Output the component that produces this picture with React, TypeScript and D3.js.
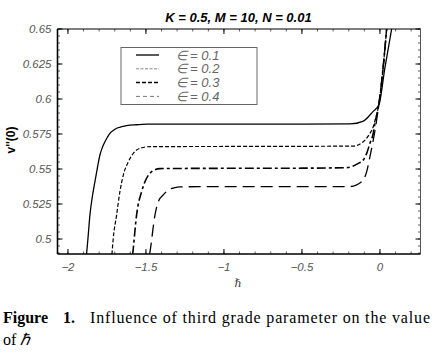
import React from "react";
import * as d3 from "d3";

type Pt = [number, number];

const seriesLabels = ["∈ = 0.1", "∈ = 0.2", "∈ = 0.3", "∈ = 0.4"];

const eps01: Pt[] = [
  [-1.881, 0.489], [-1.872, 0.5], [-1.859, 0.5172], [-1.844, 0.530], [-1.827, 0.541],
  [-1.811, 0.551], [-1.795, 0.560], [-1.779, 0.5655], [-1.763, 0.5695], [-1.747, 0.5727],
  [-1.731, 0.5755], [-1.71, 0.5775], [-1.688, 0.5791], [-1.656, 0.5802], [-1.624, 0.581],
  [-1.56, 0.5816], [-1.496, 0.582], [-1.0, 0.582], [-0.5, 0.582], [-0.19, 0.5822],
  [-0.11, 0.584], [-0.045, 0.591], [-0.006, 0.596], [0.03, 0.621], [0.075, 0.65],
];
const eps02: Pt[] = [
  [-1.718, 0.489], [-1.71, 0.5], [-1.688, 0.5172], [-1.667, 0.5338], [-1.645, 0.5457],
  [-1.613, 0.5552], [-1.581, 0.5612], [-1.538, 0.5648], [-1.474, 0.566], [-1.0, 0.5661],
  [-0.5, 0.5662], [-0.173, 0.5664], [-0.107, 0.5695], [-0.064, 0.5755], [-0.043, 0.5802],
  [-0.032, 0.5845], [-0.006, 0.597], [0.02, 0.622], [0.043, 0.65],
];
const eps03: Pt[] = [
  [-1.585, 0.489], [-1.581, 0.4934], [-1.56, 0.5172], [-1.528, 0.5338], [-1.496, 0.5434],
  [-1.463, 0.5481], [-1.41, 0.5503], [-1.0, 0.5505], [-0.5, 0.5506], [-0.213, 0.551],
  [-0.139, 0.554], [-0.107, 0.5564], [-0.085, 0.5612], [-0.064, 0.5684],
  [-0.043, 0.5755], [-0.032, 0.5827], [-0.006, 0.597], [0.02, 0.622], [0.043, 0.65],
];
const eps04: Pt[] = [
  [-1.477, 0.489], [-1.474, 0.491], [-1.442, 0.5172], [-1.421, 0.5267], [-1.389, 0.5315],
  [-1.357, 0.535], [-1.32, 0.5366], [-1.282, 0.5373], [-1.0, 0.5374], [-0.5, 0.5374],
  [-0.19, 0.5375], [-0.117, 0.541], [-0.085, 0.5481], [-0.064, 0.5588], [-0.043, 0.5707],
  [-0.026, 0.5814], [-0.006, 0.597], [0.02, 0.622], [0.043, 0.65],
];
const seriesData = [eps01, eps02, eps03, eps04];

const xTicks = [-2, -1.5, -1, -0.5, 0];
const xTickLabels = ["−2", "−1.5", "−1", "−0.5", "0"];
const yTicks = [0.5, 0.525, 0.55, 0.575, 0.6, 0.625, 0.65];
const yTickLabels = ["0.5", "0.525", "0.55", "0.575", "0.6", "0.625", "0.65"];

const titleText = "K = 0.5, M = 10, N = 0.01";
const yLabel = "v''(0)";
const xLabel = "ℏ";

const styles = [
  { dash: "", width: 1.3, color: "#000" },
  { dash: "4,2", width: 1.2, color: "#000" },
  { dash: "9,3,3,3", width: 1.6, color: "#000" },
  { dash: "12,6", width: 1.3, color: "#000" },
];
const legendStyles = [
  { dash: "", width: 1.3, color: "#000" },
  { dash: "3,1.5", width: 1, color: "#888" },
  { dash: "4,2", width: 1.5, color: "#000" },
  { dash: "4,3", width: 1, color: "#777" },
];

export default function App() {
  const L = 57.5, R = 420.5, T = 29, B = 254;
  const x = d3.scaleLinear().domain([-2.067, 0.26]).range([L, R]);
  const y = d3.scaleLinear().domain([0.4893, 0.65]).range([B, T]);
  const line = d3
    .line<Pt>()
    .x((d) => x(d[0]))
    .y((d) => y(d[1]))
    .curve(d3.curveMonotoneX);

  const xMinor = d3.range(-2.0, 0.26, 0.1).map((v) => Math.round(v * 10) / 10);
  const yMinor = d3.range(0.49, 0.6501, 0.005).map((v) => Math.round(v * 1000) / 1000);

  const tickFont = "Arial, 'Liberation Sans', sans-serif";
  const serif = "'Liberation Serif', 'Times New Roman', serif";

  return (
    <svg
      width={438}
      height={352}
      style={{ position: "absolute", left: 0, top: 0, background: "#fff" }}
    >
      <defs>
        <clipPath id="plotclip">
          <rect x={L} y={T} width={R - L} height={B - T} />
        </clipPath>
      </defs>
      <rect x={0} y={0} width={438} height={352} fill="#fff" />

      {xMinor.map((v, i) => (
        <g key={"xm" + i} stroke="#333" strokeWidth={0.8}>
          <line x1={x(v)} x2={x(v)} y1={B} y2={B - 2.5} />
          <line x1={x(v)} x2={x(v)} y1={T} y2={T + 2.5} />
        </g>
      ))}
      {yMinor.map((v, i) => (
        <g key={"ym" + i} stroke="#333" strokeWidth={0.8}>
          <line x1={L} x2={L + 2.5} y1={y(v)} y2={y(v)} />
          <line x1={R} x2={R - 2.5} y1={y(v)} y2={y(v)} />
        </g>
      ))}
      {xTicks.map((v, i) => (
        <g key={"xM" + i} stroke="#000" strokeWidth={1}>
          <line x1={x(v)} x2={x(v)} y1={B} y2={B - 5} />
          <line x1={x(v)} x2={x(v)} y1={T} y2={T + 5} />
        </g>
      ))}
      {yTicks.map((v, i) => (
        <g key={"yM" + i} stroke="#000" strokeWidth={1}>
          <line x1={L} x2={L + 5} y1={y(v)} y2={y(v)} />
          <line x1={R} x2={R - 5} y1={y(v)} y2={y(v)} />
        </g>
      ))}

      <line x1={L} x2={R} y1={T} y2={T} stroke="#000" strokeWidth={1.2} />
      <line x1={R} x2={R} y1={T} y2={B} stroke="#555" strokeWidth={1} />
      <line x1={L} x2={L} y1={T} y2={B} stroke="#000" strokeWidth={1.6} />
      <line x1={L} x2={R} y1={B} y2={B} stroke="#000" strokeWidth={1.6} />

      {xTicks.map((v, i) => (
        <text
          key={"xl" + i}
          x={x(v)}
          y={271}
          textAnchor="middle"
          fontFamily={tickFont}
          fontStyle="italic"
          fontSize={11.5}
          fill="#555"
        >
          {xTickLabels[i]}
        </text>
      ))}
      {yTicks.map((v, i) => (
        <text
          key={"yl" + i}
          x={51.5}
          y={y(v) + 4}
          textAnchor="end"
          fontFamily={tickFont}
          fontStyle="italic"
          fontSize={11.5}
          fill="#555"
        >
          {yTickLabels[i]}
        </text>
      ))}

      <g clipPath="url(#plotclip)" fill="none">
        {seriesData.map((d, i) => (
          <path
            key={"s" + i}
            d={line(d) || ""}
            stroke={styles[i].color}
            strokeWidth={styles[i].width}
            strokeDasharray={styles[i].dash}
          />
        ))}
      </g>

      <rect x={121} y={47.5} width={136} height={57} fill="#fff" stroke="#666" strokeWidth={1} />
      {seriesLabels.map((lab, i) => {
        const ly = 55 + i * 13.8;
        return (
          <g key={"lg" + i}>
            <line
              x1={136}
              x2={159}
              y1={ly}
              y2={ly}
              stroke={legendStyles[i].color}
              strokeWidth={legendStyles[i].width}
              strokeDasharray={legendStyles[i].dash}
            />
            <text
              x={175.5}
              y={ly + 4.5}
              fontFamily={tickFont}
              fontStyle="italic"
              fontSize={13}
              fill="#666"
            >
              {lab}
            </text>
          </g>
        );
      })}

      <text
        x={238.5}
        y={22}
        textAnchor="middle"
        fontFamily={tickFont}
        fontStyle="italic"
        fontWeight="bold"
        fontSize={13}
        fill="#000"
      >
        {titleText}
      </text>

      <text
        transform="translate(15,140) rotate(-90)"
        textAnchor="middle"
        fontFamily={tickFont}
        fontWeight="bold"
        fontSize={12}
        fill="#000"
      >
        {yLabel}
      </text>
      <text
        x={238}
        y={287}
        textAnchor="middle"
        fontFamily="'DejaVu Serif', serif"
        fontStyle="italic"
        fontSize={11}
        fill="#333"
      >
        {xLabel}
      </text>

      <text x={3} y={323} fontFamily={serif} fontSize={16} fontWeight="bold" fill="#000">
        Figure
      </text>
      <text x={63} y={323} fontFamily={serif} fontSize={16} fontWeight="bold" fill="#000">
        1.
      </text>
      <text
        x={90}
        y={323}
        fontFamily={serif}
        fontSize={16}
        fill="#000"
        textLength={340}
        lengthAdjust="spacing"
      >
        Influence of third grade parameter on the value
      </text>
      <text x={3} y={345} fontFamily={serif} fontSize={16} fill="#000">
        of <tspan fontStyle="italic">ℏ</tspan>
      </text>
    </svg>
  );
}
